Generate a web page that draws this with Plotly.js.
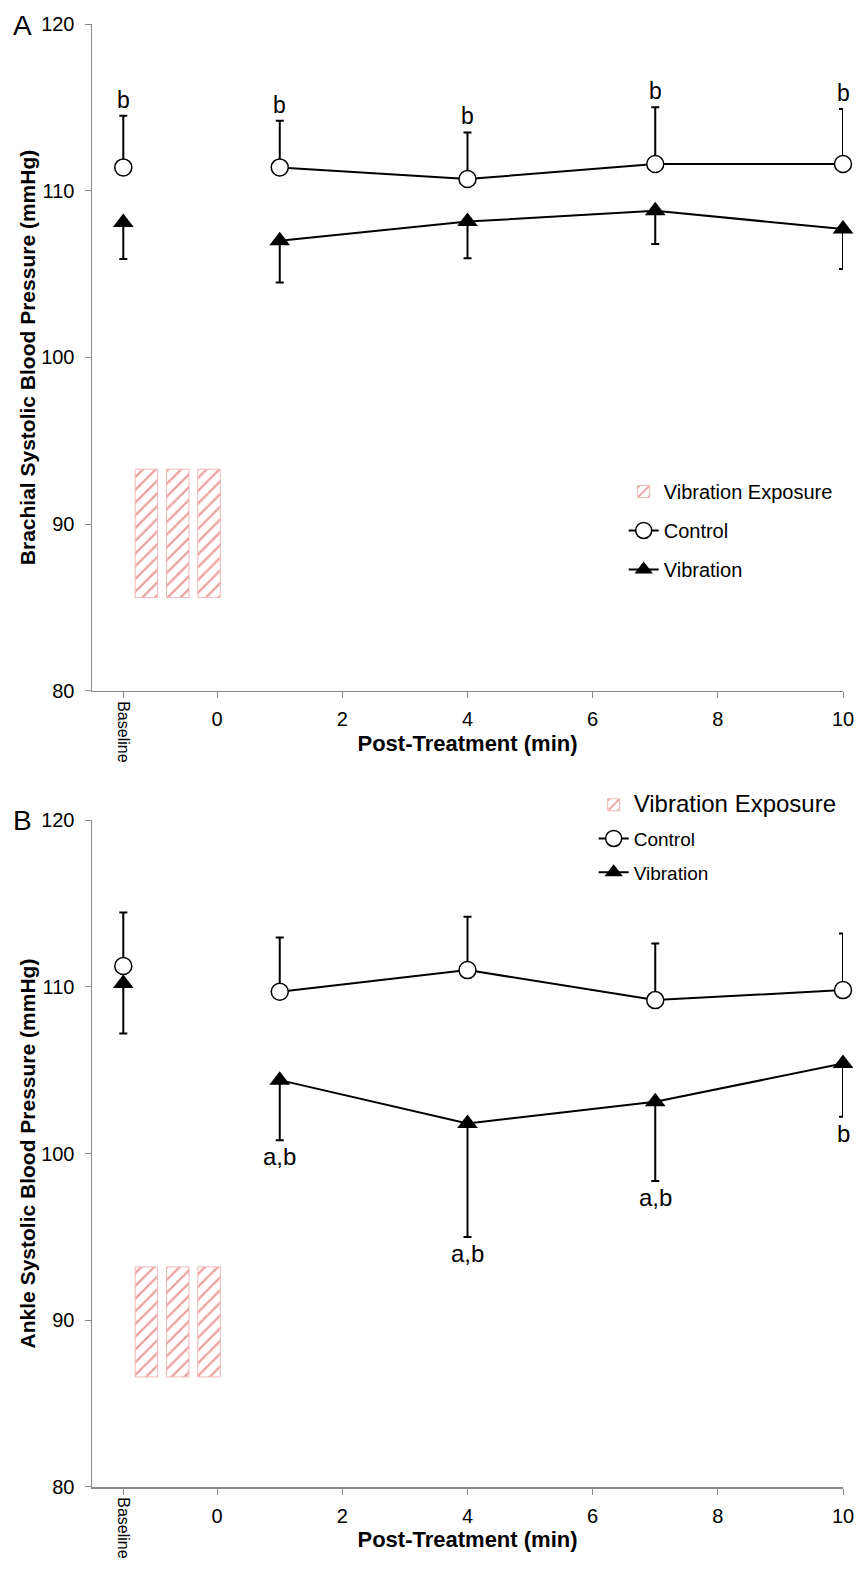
<!DOCTYPE html>
<html>
<head>
<meta charset="utf-8">
<script src="https://cdn.plot.ly/plotly-3.0.1.min.js"></script>
<style>html,body{margin:0;padding:0;background:#fff;}#chart{width:867px;height:1569px;}</style>
</head>
<body>
<div id="chart"></div>
<script>
// ---- data ----
const baselineX = -1.5;                 // position of the "Baseline" tick
const timepoints = [1, 4, 7, 10];       // post-treatment minutes
const xTickVals = [-1.5, 0, 2, 4, 6, 8, 10];
const xTickText = ['', '0', '2', '4', '6', '8', '10'];

// Panel A: brachial SBP
const ctrlA_base = 111.4, ctrlA_baseSD = 3.1;
const ctrlA = [111.4, 110.7, 111.6, 111.6];
const ctrlA_SD = [2.8, 2.8, 3.4, 3.3];
const vibA_base = 108.1, vibA_baseSD = 2.2;
const vibA = [107.0, 108.15, 108.8, 107.7];
const vibA_SD = [2.5, 2.2, 2.0, 2.4];
const sigA_base = 'b';
const sigA = ['b', 'b', 'b', 'b'];

// Panel B: ankle SBP
const ctrlB_base = 111.25, ctrlB_baseSD = 3.2;
const ctrlB = [109.7, 111.0, 109.2, 109.8];
const ctrlB_SD = [3.25, 3.2, 3.4, 3.4];
const vibB_base = 110.2, vibB_baseSD = 3.0;
const vibB = [104.4, 101.8, 103.1, 105.4];
const vibB_SD = [3.6, 6.8, 4.75, 3.2];
const sigB = ['a,b', 'a,b', 'a,b', 'b'];

// Vibration exposure bouts (hatched blocks)
const exposureX = [-1.13, -0.63, -0.13];
const exposureWidth = [0.36, 0.36, 0.36];
const exposureA_low = [85.6, 85.6, 85.6], exposureA_high = [93.3, 93.3, 93.3];
const exposureB_low = [86.6, 86.6, 86.6], exposureB_high = [93.2, 93.2, 93.2];

// ---- styling ----
const FONT = 'Liberation Sans, Arial, Helvetica, sans-serif';
const AXIS_GRAY = '#8a8a8a';

function panelTraces(xa, ya, leg, exLow, exHigh, cBase, cBaseSD, c, cSD, vBase, vBaseSD, v, vSD, bigExposureLabel) {
  const zeros = n => new Array(n).fill(0);
  const circle = {symbol: 'circle', size: 17, color: '#ffffff', line: {color: '#000', width: 1.5}};
  const tri = {symbol: 'triangle-up', size: 18, color: '#000', line: {color: '#000', width: 0}};
  return [
    {
      type: 'bar', xaxis: xa, yaxis: ya, legend: leg, legendrank: 1, legendgroup: leg + 'exp',
      name: bigExposureLabel ? '<span style="font-size:24px">Vibration Exposure</span>' : 'Vibration Exposure',
      x: exposureX, base: exLow, y: exHigh.map((h, i) => h - exLow[i]), width: exposureWidth,
      marker: {color: '#fff8f8', line: {color: '#efb8b8', width: 1},
               pattern: {shape: '/', fgcolor: '#ee9e9e', size: 9, solidity: 0.25}},
      hoverinfo: 'skip'
    },
    {
      type: 'scatter', mode: 'markers', xaxis: xa, yaxis: ya, showlegend: false, cliponaxis: false,
      x: [baselineX], y: [vBase],
      marker: tri,
      error_y: {type: 'data', symmetric: false, array: [0], arrayminus: [vBaseSD], color: '#000', thickness: 2, width: 4}
    },
    {
      type: 'scatter', mode: 'lines+markers', xaxis: xa, yaxis: ya, legend: leg, legendrank: 3,
      legendgroup: leg + 'vib', cliponaxis: false,
      name: 'Vibration', x: timepoints, y: v,
      line: {color: '#000', width: 2}, marker: tri,
      error_y: {type: 'data', symmetric: false, array: zeros(v.length), arrayminus: vSD, color: '#000', thickness: 2, width: 4}
    },
    {
      type: 'scatter', mode: 'markers', xaxis: xa, yaxis: ya, showlegend: false, cliponaxis: false,
      x: [baselineX], y: [cBase],
      marker: circle,
      error_y: {type: 'data', symmetric: false, array: [cBaseSD], arrayminus: [0], color: '#000', thickness: 2, width: 4}
    },
    {
      type: 'scatter', mode: 'lines+markers', xaxis: xa, yaxis: ya, legend: leg, legendrank: 2,
      legendgroup: leg + 'ctrl', cliponaxis: false,
      name: 'Control', x: timepoints, y: c,
      line: {color: '#000', width: 2}, marker: circle,
      error_y: {type: 'data', symmetric: false, array: cSD, arrayminus: zeros(c.length), color: '#000', thickness: 2, width: 4}
    }
  ];
}

const data = [].concat(
  panelTraces('x', 'y', 'legend', exposureA_low, exposureA_high,
    ctrlA_base, ctrlA_baseSD, ctrlA, ctrlA_SD, vibA_base, vibA_baseSD, vibA, vibA_SD, false),
  panelTraces('x2', 'y2', 'legend2', exposureB_low, exposureB_high,
    ctrlB_base, ctrlB_baseSD, ctrlB, ctrlB_SD, vibB_base, vibB_baseSD, vibB, vibB_SD, true)
);

// ---- annotations ----
const annotations = [];
// significance letters, panel A (above control error bars)
[[baselineX, ctrlA_base + ctrlA_baseSD, sigA_base]].concat(
  timepoints.map((t, i) => [t, ctrlA[i] + ctrlA_SD[i], sigA[i]])
).forEach(([x, y, txt]) => annotations.push({
  xref: 'x', yref: 'y', x: x, y: y, text: txt, showarrow: false,
  yanchor: 'bottom', yshift: 1, font: {family: FONT, size: 23, color: '#000'}
}));
// significance letters, panel B (below vibration error bars)
timepoints.forEach((t, i) => annotations.push({
  xref: 'x2', yref: 'y2', x: t, y: vibB[i] - vibB_SD[i], text: sigB[i], showarrow: false,
  yanchor: 'top', yshift: -1, font: {family: FONT, size: 24, color: '#000'}
}));
// rotated "Baseline" tick labels
[['x', 'y'], ['x2', 'y2']].forEach(([xr, yr]) => annotations.push({
  xref: xr, yref: yr, x: baselineX, y: 80, text: 'Baseline', textangle: 90, showarrow: false,
  yanchor: 'top', xanchor: 'center', yshift: -8, font: {family: FONT, size: 16, color: '#000'}
}));
// panel letters
annotations.push({xref: 'paper', yref: 'paper', x: -0.092, y: 0.9993, text: 'A', showarrow: false,
  xanchor: 'center', yanchor: 'middle', font: {family: FONT, size: 28, color: '#000'}});
annotations.push({xref: 'paper', yref: 'paper', x: -0.092, y: 0.4559, text: 'B', showarrow: false,
  xanchor: 'center', yanchor: 'middle', font: {family: FONT, size: 28, color: '#000'}});

function xAxis(anchor) {
  return {
    anchor: anchor, domain: [0, 1], range: [-2, 10], tickmode: 'array',
    tickvals: xTickVals, ticktext: xTickText, automargin: false,
    ticks: 'outside', ticklen: 6, tickwidth: 1, tickcolor: AXIS_GRAY,
    ticklabelstandoff: 4,
    showline: true, linecolor: AXIS_GRAY, linewidth: 1.5,
    showgrid: false, zeroline: false,
    tickfont: {family: FONT, size: 20, color: '#000'},
    title: {text: '<b>Post-Treatment (min)</b>', font: {family: FONT, size: 22, color: '#000'}, standoff: 6}
  };
}
function yAxis(anchor, domain, title) {
  return {
    anchor: anchor, domain: domain, range: [80, 120], tick0: 80, dtick: 10, automargin: false,
    ticks: 'outside', ticklen: 6, tickwidth: 1, tickcolor: AXIS_GRAY,
    ticklabelstandoff: 6,
    showline: true, linecolor: AXIS_GRAY, linewidth: 1.5,
    showgrid: false, zeroline: false,
    tickfont: {family: FONT, size: 20, color: '#000'},
    title: {text: '<b>' + title + '</b>', font: {family: FONT, size: 21, color: '#000'}}
  };
}

const layout = {
  width: 867, height: 1569, autosize: false,
  margin: {l: 92, r: 24, t: 24, b: 82},
  paper_bgcolor: '#fff', plot_bgcolor: '#fff',
  font: {family: FONT, color: '#000'},
  bargap: 0,
  xaxis: xAxis('y'),
  yaxis: yAxis('x', [0.5441, 1], 'Brachial Systolic Blood Pressure (mmHg)'),
  xaxis2: xAxis('y2'),
  yaxis2: yAxis('x2', [0, 0.4559], 'Ankle Systolic Blood Pressure (mmHg)'),
  legend: {x: 0.708, y: 0.6938, xanchor: 'left', yanchor: 'top',
           bgcolor: 'rgba(0,0,0,0)',
           font: {family: FONT, size: 20, color: '#000'}, traceorder: 'grouped', tracegroupgap: 10},
  legend2: {x: 0.668, y: 0.4792, xanchor: 'left', yanchor: 'top',
            bgcolor: 'rgba(0,0,0,0)',
            font: {family: FONT, size: 19, color: '#000'}, traceorder: 'grouped', tracegroupgap: 6},
  annotations: annotations,
  showlegend: true
};

Plotly.newPlot('chart', data, layout, {staticPlot: true, displayModeBar: false});
</script>
</body>
</html>
